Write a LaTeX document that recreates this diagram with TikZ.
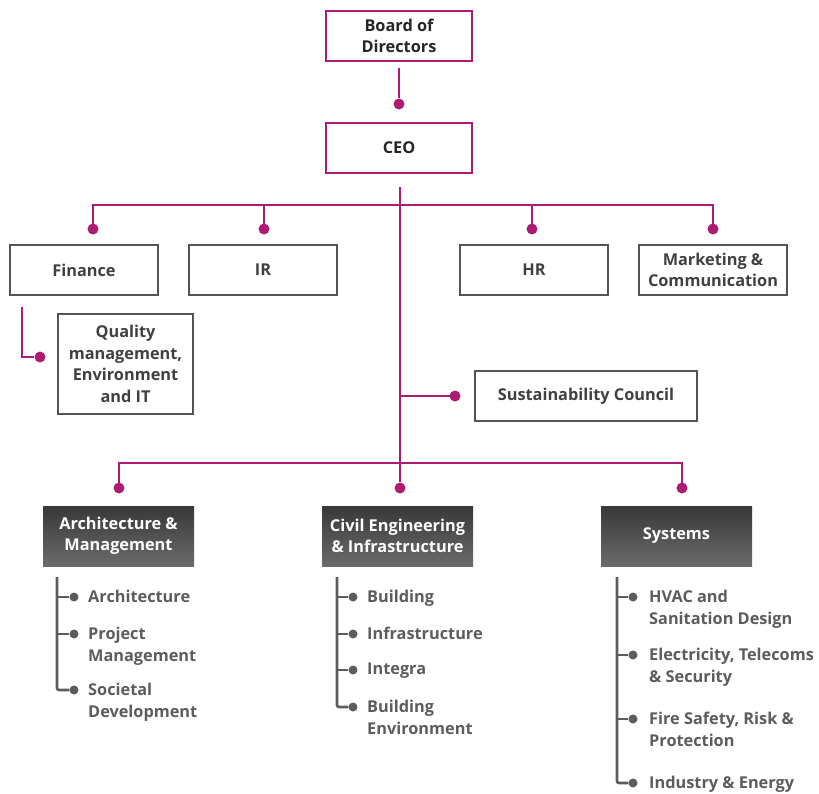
\documentclass[tikz,border=0pt]{standalone}
\usepackage{fontspec}
\setmainfont{Open Sans}
\usetikzlibrary{calc,positioning}
\definecolor{plum}{HTML}{AE1B73}
\definecolor{boxgray}{HTML}{555555}
\definecolor{itemgray}{HTML}{5C5C5C}
\tikzset{
  headbox/.style={draw=plum, line width=2.6pt, minimum width=146pt, minimum height=50pt,
    inner sep=0pt, align=center, text=black!85},
  staffbox/.style={draw=boxgray, line width=2.4pt, minimum width=148pt, minimum height=50pt,
    inner sep=0pt, align=center, text=black!75},
  unitbox/.style={top color=black!78, bottom color=black!58, minimum width=151pt,
    minimum height=60pt, inner sep=0pt, align=center, text=white},
  link/.style={draw=plum, line width=2.6pt},
  pdot/.style={circle, fill=plum, inner sep=0pt, minimum size=11pt},
  sub/.style={draw=itemgray, line width=2.6pt},
  gdot/.style={circle, fill=itemgray, inner sep=0pt, minimum size=9pt},
  item/.style={anchor=north west, inner sep=0pt, align=left, text=itemgray},
}
\begin{document}
\begin{tikzpicture}[x=1pt, y=-1pt, font=\fontsize{16.3}{21.5}\selectfont\bfseries]
		%%%%% START %%%%%
		\useasboundingbox (0,0) rectangle (819,793);
		
		% top of the tree
		\node[headbox] (board) at (399,36) {Board of\\Directors};
		\node[headbox] (ceo) at (399,148) {CEO};
		\node[pdot] (dceo) at (399,104) {};
		\coordinate (boardout) at (399,68);
		\draw[link] (boardout) -- (dceo);
		
		% staff functions
		\node[staffbox] (finance) at (84,270) {Finance};
		\node[staffbox] (ir) at (263,270) {IR};
		\node[staffbox] (hr) at (534,270) {HR};
		\node[staffbox] (market) at (713,270) {Marketing \&\\Communication};
		\node[staffbox, minimum width=135pt, minimum height=100pt] (quality) at (125.5,364)
			{Quality\\management,\\Environment\\and IT};
		\node[staffbox, minimum width=222pt] (council) at (586,396) {Sustainability Council};
		
		\coordinate (ceoout) at (400,187);
		\coordinate (topbus) at (400,205);
		\coordinate (lowbus) at (400,463);
		\node[pdot] (dfin) at (93,229) {};
		\node[pdot] (dir) at (264,229) {};
		\node[pdot] (dhr) at (532,229) {};
		\node[pdot] (dmkt) at (713,229) {};
		\draw[link] (dfin.center) |- (topbus);
		\draw[link] (dir.center) |- (topbus);
		\draw[link] (dhr.center) |- (topbus);
		\draw[link] (dmkt.center) |- (topbus);
		
		\coordinate (finout) at (22,307);
		\node[pdot] (dqual) at (40,357) {};
		\draw[link] (finout) |- (dqual);
		
		\node[pdot] (dcouncil) at (455,396) {};
		\draw[link] (dcouncil.center) -- (dcouncil -| lowbus);
		
		% business units
		\node[unitbox] (arch) at (118.5,536) {Architecture \&\\Management};
		\node[unitbox] (civil) at (397.5,536) {Civil Engineering\\\& Infrastructure};
		\node[unitbox] (sys) at (676.5,536) {Systems};
		\node[pdot] (darch) at (119,488) {};
		\node[pdot] (dcivil) at (400,488) {};
		\node[pdot] (dsys) at (682,488) {};
		\draw[link] (ceoout) -- (dcivil);
		\draw[link] (darch.center) |- (lowbus);
		\draw[link] (dsys.center) |- (lowbus);
		
		% architecture & management
		\coordinate (archtrunk) at (57,577);
		\node[gdot] (a1) at (74,597) {};
		\node[gdot] (a2) at (74,634) {};
		\node[gdot] (a3) at (74,690) {};
		\draw[sub] (archtrunk) |- (a1);
		\draw[sub] (archtrunk) |- (a2);
		\draw[sub, rounded corners=2pt] (archtrunk) |- (a3);
		\node[item] at (88,590) {Architecture};
		\node[item] at (88,627) {Project\\Management};
		\node[item] at (88,683) {Societal\\Development};
		
		% civil engineering & infrastructure
		\coordinate (civtrunk) at (337,577);
		\node[gdot] (c1) at (353,597) {};
		\node[gdot] (c2) at (353,634) {};
		\node[gdot] (c3) at (353,670) {};
		\node[gdot] (c4) at (353,707) {};
		\draw[sub] (civtrunk) |- (c1);
		\draw[sub] (civtrunk) |- (c2);
		\draw[sub] (civtrunk) |- (c3);
		\draw[sub, rounded corners=2pt] (civtrunk) |- (c4);
		\node[item] at (367,590) {Building};
		\node[item] at (367,627) {Infrastructure};
		\node[item] at (367,663) {Integra};
		\node[item] at (367,700) {Building\\Environment};
		
		% systems
		\coordinate (systrunk) at (617,577);
		\node[gdot] (s1) at (633,597) {};
		\node[gdot] (s2) at (633,655) {};
		\node[gdot] (s3) at (633,719) {};
		\node[gdot] (s4) at (633,783) {};
		\draw[sub] (systrunk) |- (s1);
		\draw[sub] (systrunk) |- (s2);
		\draw[sub] (systrunk) |- (s3);
		\draw[sub, rounded corners=2pt] (systrunk) |- (s4);
		\node[item] at (649,590) {HVAC and\\Sanitation Design};
		\node[item] at (649,648) {Electricity, Telecoms\\\& Security};
		\node[item] at (649,712) {Fire Safety, Risk \&\\Protection};
		\node[item] at (649,776) {Industry \& Energy};
		
		%%%%% END %%%%%
	\end{tikzpicture}
\end{document}
